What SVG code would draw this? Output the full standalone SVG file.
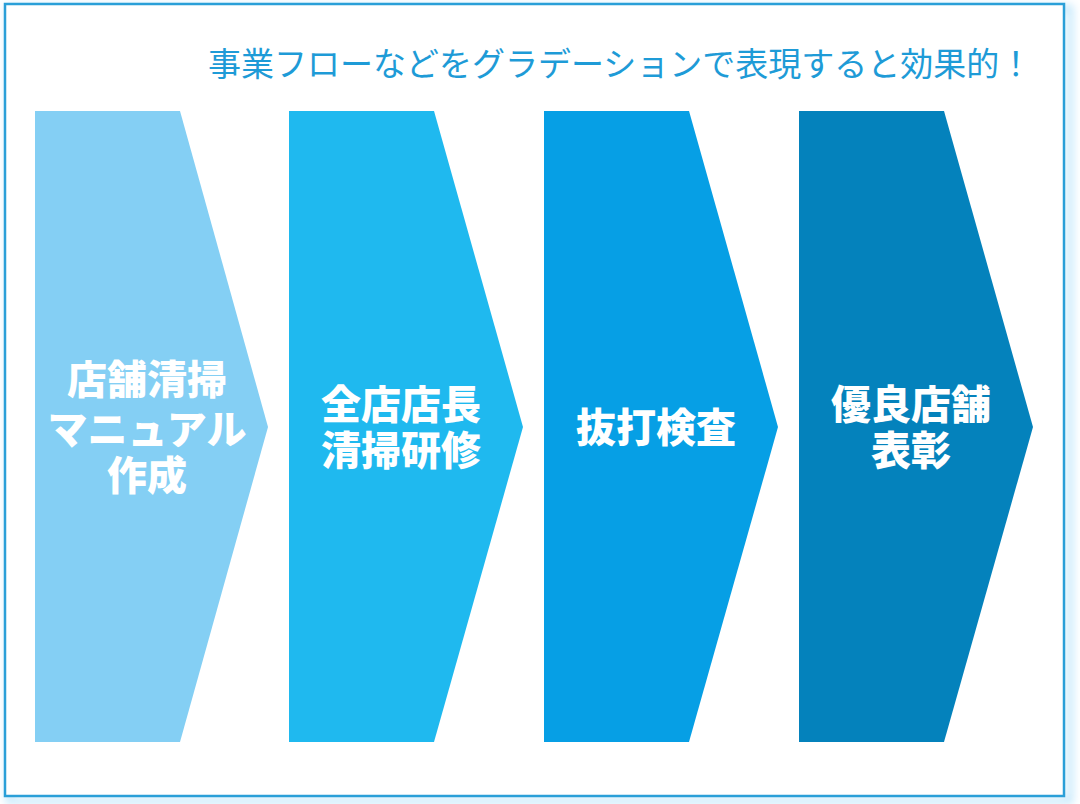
<svg xmlns="http://www.w3.org/2000/svg" width="1080" height="804" viewBox="0 0 1080 804">
<style>
.lbl{font-family:"Noto Sans CJK JP","Noto Sans",sans-serif;font-weight:900;font-size:40px;fill:#ffffff;text-anchor:middle}
.head{font-family:"Noto Sans CJK JP","Noto Sans",sans-serif;font-weight:400;font-size:33px;fill:#1e9bd7}
</style>
<defs>
<filter id="glow" x="-5%" y="-5%" width="110%" height="110%">
<feGaussianBlur stdDeviation="4"/>
</filter>
</defs>
<rect x="0" y="0" width="1080" height="804" fill="#ffffff"/>
<rect x="9" y="8" width="1061" height="793" fill="none" stroke="#bfe6fb" stroke-width="6" filter="url(#glow)"/>
<rect x="5" y="4" width="1059" height="792" fill="#ffffff" stroke="#2a9fd8" stroke-width="2.5"/>
<g id="heading">
<text class="head" x="208" y="76">事業フローなどをグラデーションで表現すると効果的！</text>
</g>
<g id="step1">
<polygon points="35,111 180,111 268,427 180,742 35,742" fill="#84cff4"/>
<text class="lbl"><tspan x="147" y="394">店舗清掃</tspan><tspan x="147" y="444">マニュアル</tspan><tspan x="147" y="490">作成</tspan></text>
</g>
<g id="step2">
<polygon points="289,111 434,111 523,427 434,742 289,742" fill="#1fb9ef"/>
<text class="lbl"><tspan x="401" y="419">全店店長</tspan><tspan x="401" y="465">清掃研修</tspan></text>
</g>
<g id="step3">
<polygon points="544,111 689,111 778,427 689,742 544,742" fill="#069fe5"/>
<text class="lbl" x="656" y="442">抜打検査</text>
</g>
<g id="step4">
<polygon points="799,111 944,111 1033,427 944,742 799,742" fill="#0482bc"/>
<text class="lbl"><tspan x="911" y="419">優良店舗</tspan><tspan x="911" y="465">表彰</tspan></text>
</g>
<g id="connectors"></g>
</svg>
